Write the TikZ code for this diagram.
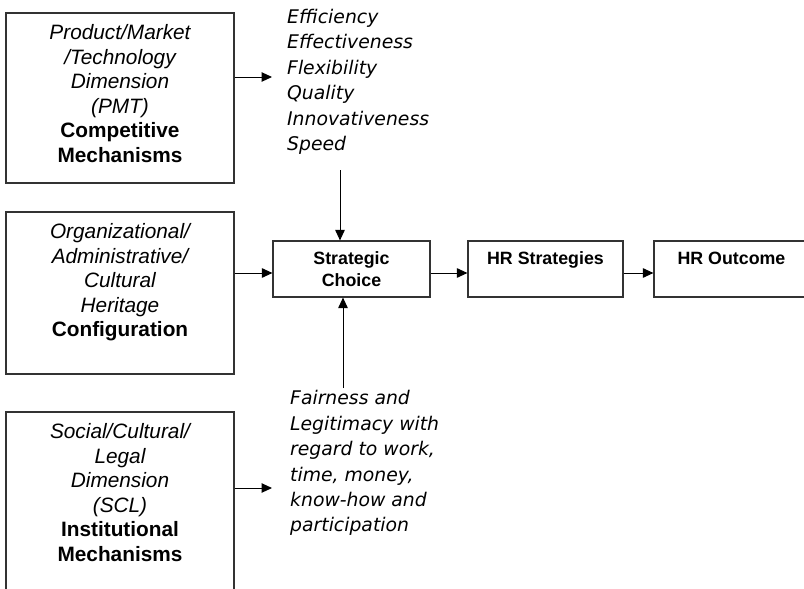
\documentclass[tikz,border=0pt]{standalone}
\usepackage{fontspec}
\setmainfont{Liberation Sans}
\newfontfamily\verd{DejaVu Sans}
\usetikzlibrary{arrows.meta}
\begin{document}
\begin{tikzpicture}[x=1pt,y=-1pt,
  box/.style={draw=black!80,line width=1.2pt,rectangle,inner sep=0pt,minimum height=#1},
  bigtxt/.style={anchor=north,inner sep=0pt,align=center,font=\fontsize{20.8}{24.5}\selectfont},
  listtxt/.style={anchor=north west,inner sep=0pt,align=left,font=\verd\itshape\fontsize{18.8}{25.4}\selectfont},
  smalltxt/.style={anchor=north,inner sep=0pt,align=center,font=\bfseries\fontsize{17.8}{22}\selectfont},
  arr/.style={draw=black,line width=1pt,-{Triangle[length=10.5pt,width=9.5pt]}}]
\useasboundingbox (0,0) rectangle (804,589);
\clip (0,0) rectangle (804,589);
\fill[white] (0,0) rectangle (804,589);
% boxes
\node[box=170pt,minimum width=228pt] (box1) at (120,98) {};
\node[box=162pt,minimum width=228pt] (box2) at (120,293) {};
\node[box=230pt,minimum width=228pt] (box3) at (120,527) {};
\node[box=56pt,minimum width=157pt] (sc) at (351.5,269) {};
\node[box=56pt,minimum width=155pt] (hrs) at (545.5,269) {};
\node[box=56pt,minimum width=155pt] (hro) at (731.5,269) {};
% texts
\node[bigtxt] (t1) at (120,22.5) {\strut\itshape Product/Market\\\itshape /Technology\\\itshape Dimension\\\itshape (PMT)\\\bfseries Competitive\\\bfseries Mechanisms};
\node[bigtxt] (t2) at (120,221.5) {\strut\itshape Organizational/\\\itshape Administrative/\\\itshape Cultural\\\itshape Heritage\\\bfseries Configuration};
\node[bigtxt] (t3) at (120,421.5) {\strut\itshape Social/Cultural/\\\itshape Legal\\\itshape Dimension\\\itshape (SCL)\\\bfseries Institutional\\\bfseries Mechanisms};
\node[listtxt] (list) at (287,5.5) {\strut Efficiency\\Effectiveness\\Flexibility\\Quality\\Innovativeness\\Speed};
\node[listtxt] (fair) at (290,387) {\strut Fairness and\\Legitimacy with\\regard to work,\\time, money,\\know-how and\\participation};
\node[smalltxt] (sctxt) at (351.5,249) {\strut Strategic\\Choice};
\node[smalltxt] (hrstxt) at (545.5,249) {\strut HR Strategies};
\node[smalltxt] (hrotxt) at (731.5,249) {\strut HR Outcome};
% connectors
\coordinate (a1) at (272,77);
\draw[arr] (a1 -| box1.east) -- (a1);
\coordinate (a3) at (272,488);
\draw[arr] (a3 -| box3.east) -- (a3);
\coordinate (l2) at ([yshift=-4pt]sc.west);
\draw[arr] (box2.east |- l2) -- (l2);
\draw[arr] ([yshift=-4pt]sc.east) -- ([yshift=-4pt]hrs.west);
\draw[arr] ([yshift=-4pt]hrs.east) -- ([yshift=-4pt]hro.west);
\coordinate (v1) at (340,170);
\draw[arr] (v1) -- (v1 |- sc.north);
\coordinate (v2) at (343,388);
\draw[arr] (v2) -- (v2 |- sc.south);
\end{tikzpicture}
\end{document}
